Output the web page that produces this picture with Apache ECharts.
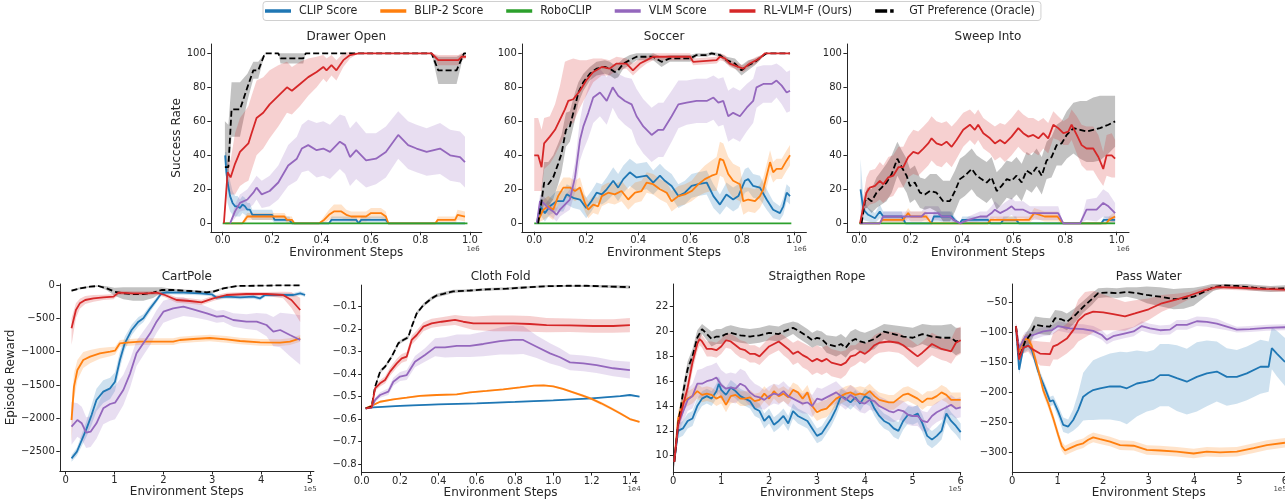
<!DOCTYPE html>
<html><head><meta charset="utf-8">
<script src="https://cdn.jsdelivr.net/npm/echarts@6/dist/echarts.min.js"></script>
<style>html,body{margin:0;padding:0;background:#fff}#c{width:1285px;height:499px}</style>
</head><body><div id="c"></div>
<script>
const SERIES_NAMES = ['CLIP Score','BLIP-2 Score','RoboCLIP','VLM Score','RL-VLM-F (Ours)','GT Preference (Oracle)'];
const SERIES_COLORS = ['#1f77b4','#ff7f0e','#2ca02c','#9467bd','#d62728','#000000'];

const TOP_X_TICKS = [0, 0.2, 0.4, 0.6, 0.8, 1.0];
const TOP_Y_TICKS = [0, 20, 40, 60, 80, 100];
const CART_X_TICKS = [0, 1, 2, 3, 4, 5];
const CART_Y_TICKS = [0, -500, -1000, -1500, -2000, -2500];
const CLOTH_X_TICKS = [0, 0.2, 0.4, 0.6, 0.8, 1.0, 1.2, 1.4];
const CLOTH_Y_TICKS = [-0.1, -0.2, -0.3, -0.4, -0.5, -0.6, -0.7, -0.8];
const ROPE_X_TICKS = [0, 1, 2, 3, 4, 5, 6];
const ROPE_Y_TICKS = [10, 12, 14, 16, 18, 20, 22];
const PASS_X_TICKS = [0, 1, 2, 3, 4, 5, 6];
const PASS_Y_TICKS = [-50, -100, -150, -200, -250, -300];

// [x, mean, band below, band above (optional)]
const DRAWER_CLIP = [[0.01,40,2],[0.015,30,12],[0.02,24,12],[0.03,16,9],[0.04,12,7],[0.05,10,6],[0.06,10,6],[0.07,9,5],[0.08,11,5],[0.09,10,5],[0.1,8,4],[0.11,8,4],[0.12,5,3],[0.2,5,3],[0.21,2,2],[0.27,2,2],[0.28,0,0],[0.43,0,0],[0.44,2,2],[0.54,2,2],[0.55,0,0],[0.56,2,2],[0.66,2,2],[0.67,0,0],[0.98,0,0]];
const DRAWER_BLIP = [[0.01,0,0],[0.08,0,0],[0.09,2,2],[0.1,4,2],[0.25,4,2],[0.26,2,2],[0.28,2,2],[0.29,0,0],[0.39,0,0],[0.41,2,2],[0.43,5,3],[0.45,7,4],[0.48,7,4],[0.5,5,3],[0.52,4,3],[0.58,4,3],[0.6,6,3],[0.64,6,3],[0.66,4,3],[0.67,0,0],[0.86,0,0],[0.87,2,2],[0.94,2,2],[0.95,5,3],[0.98,4,3]];
const DRAWER_ROBO = [[0,0],[0.99,0]];
const DRAWER_VLM = [[0.03,0,0],[0.05,7,4],[0.07,12,5],[0.1,14,6],[0.124,18,7],[0.137,21,7],[0.158,17,8],[0.19,19,9],[0.225,24,10],[0.265,34,12],[0.3,38,13],[0.32,44,14],[0.346,46,15],[0.38,43,16],[0.407,44,16],[0.434,42,16],[0.474,48,16],[0.495,46,17],[0.515,39,17],[0.54,43,17],[0.58,37,16],[0.62,38,15],[0.66,42,15],[0.71,52,14],[0.75,46,14],[0.784,44,14],[0.825,42,14],[0.879,44,15],[0.92,40,15],[0.96,39,15],[0.98,36,15]];
const DRAWER_OURS = [[0.005,0,0],[0.02,30,8],[0.032,27,10],[0.05,35,18],[0.07,42,20],[0.09,45,21],[0.104,47,22],[0.117,53,22],[0.137,62,22],[0.164,65,21],[0.19,70,20],[0.225,75,18],[0.26,80,15],[0.28,78,14],[0.313,82,13],[0.346,86,11],[0.38,89,9],[0.407,92,7],[0.42,90,7],[0.44,93,6],[0.46,90,6],[0.488,96,4],[0.515,99,2],[0.55,100,0],[0.845,100,0],[0.872,96,3],[0.953,96,3],[0.966,98,2],[0.984,98,1]];
const DRAWER_GT = [[0.009,33,0,27],[0.023,33,5,25],[0.036,67,16],[0.07,67,16],[0.1,80,8],[0.124,90,5],[0.144,90,5],[0.171,100,0],[0.225,100,0],[0.234,97,3],[0.326,97,3],[0.336,100,0],[0.845,100,0],[0.872,90,8],[0.946,90,8],[0.976,100,0],[0.984,100,0]];

const SOCCER_CLIP = [[0.01,0,0],[0.022,10,5],[0.041,6,5],[0.06,10,5],[0.086,13,6],[0.112,13,6],[0.125,17,6],[0.15,15,6],[0.176,14,6],[0.2,9,6],[0.22,13,6],[0.24,18,6],[0.26,17,6],[0.279,20,7],[0.304,25,8],[0.323,21,8],[0.343,26,8],[0.368,30,8],[0.394,27,8],[0.433,28,8],[0.458,24,7],[0.484,28,7],[0.503,25,7],[0.529,22,7],[0.555,16,7],[0.58,18,7],[0.606,22,7],[0.632,23,7],[0.664,24,7],[0.69,16,7],[0.715,11,6],[0.74,17,7],[0.766,14,7],[0.786,16,7],[0.811,25,7],[0.824,26,7],[0.843,22,7],[0.869,21,7],[0.895,14,6],[0.92,8,5],[0.946,6,4],[0.959,10,5],[0.972,18,5],[0.985,16,5]];
const SOCCER_BLIP = [[0.01,0,0],[0.035,8,6],[0.054,10,6],[0.073,8,6],[0.092,16,6],[0.112,21,6],[0.137,21,6],[0.157,19,6],[0.176,21,6],[0.195,12,5],[0.208,8,5],[0.227,11,5],[0.246,10,5],[0.26,16,6],[0.285,18,6],[0.31,17,6],[0.336,19,6],[0.362,14,6],[0.388,18,6],[0.413,19,6],[0.433,24,6],[0.458,23,6],[0.484,20,6],[0.51,18,6],[0.529,13,6],[0.555,16,6],[0.58,17,6],[0.606,19,6],[0.632,23,7],[0.657,26,8],[0.683,28,9],[0.702,29,10],[0.715,38,10],[0.728,37,10],[0.747,29,10],[0.766,25,10],[0.792,23,10],[0.805,13,8],[0.824,14,7],[0.85,13,7],[0.869,16,7],[0.882,20,7],[0.895,28,7],[0.908,36,7],[0.92,30,6],[0.933,32,6],[0.953,32,6],[0.972,37,6],[0.985,40,6]];
const SOCCER_ROBO = [[0,0],[0.99,0]];
const SOCCER_VLM = [[0.01,0,0],[0.022,13,4],[0.035,12,4],[0.054,9,4],[0.073,7,4],[0.086,5,4],[0.099,8,4],[0.118,11,5],[0.137,14,6],[0.157,27,9],[0.176,49,12],[0.189,57,14],[0.208,65,15],[0.227,74,15],[0.253,77,14],[0.279,72,14],[0.302,80,12],[0.323,75,13],[0.349,72,14],[0.375,70,15],[0.394,63,16],[0.42,57,16],[0.452,52,16],[0.478,55,16],[0.497,55,16],[0.529,63,15],[0.555,70,14],[0.587,71,13],[0.625,72,13],[0.664,72,13],[0.69,74,13],[0.709,71,14],[0.728,72,14],[0.747,63,15],[0.766,65,15],[0.792,63,15],[0.818,68,14],[0.843,72,13],[0.856,80,12],[0.882,82,11],[0.914,82,11],[0.933,84,10],[0.953,81,11],[0.972,77,12],[0.985,78,12]];
const SOCCER_OURS = [[0,40,21,22],[0.015,40,21,22],[0.028,33,14,22],[0.038,47,15,15],[0.06,51,16,12],[0.08,55,15,15],[0.099,61,15,20],[0.118,67,15,28],[0.131,72,14,24],[0.15,73,14,24],[0.176,78,10,18],[0.2,84,9,12],[0.227,89,6,8],[0.26,92,5,5],[0.29,91,4,5],[0.317,94,4,4],[0.355,94,3,3],[0.38,90,3,4],[0.407,94,3,3],[0.433,96,2,2],[0.458,98,2,2],[0.6,98,2,2],[0.612,95,2,2],[0.702,96,2,2],[0.715,98,2,2],[0.734,97,2,2],[0.753,94,2,2],[0.786,92,2,2],[0.805,91,2,2],[0.83,94,2,2],[0.856,96,2,2],[0.875,98,1,1],[0.888,100,0,0],[0.985,100,0,0]];
const SOCCER_GT = [[0.015,0,0],[0.028,13,8],[0.038,24,12],[0.054,23,13],[0.073,27,13],[0.092,35,12],[0.105,41,11],[0.122,55,10],[0.137,57,9],[0.157,69,8],[0.17,77,6],[0.189,83,5],[0.214,88,4],[0.24,91,4],[0.272,92,4],[0.291,91,4],[0.31,89,4],[0.323,90,4],[0.343,94,3],[0.368,96,3],[0.394,98,2],[0.458,98,2],[0.49,95,3],[0.522,97,2],[0.6,97,2],[0.625,99,1],[0.664,99,1],[0.683,100,1],[0.715,99,1],[0.74,96,2],[0.773,94,3],[0.798,90,3],[0.824,93,3],[0.85,95,2],[0.875,98,1],[0.895,100,0],[0.985,100,0]];

const SWEEP_CLIP = [[0.005,20,20,18],[0.016,8,6],[0.035,5,4],[0.061,3,3],[0.08,7,4],[0.093,4,3],[0.165,4,3],[0.18,0,0],[0.28,0,0],[0.29,4,3],[0.36,4,3],[0.37,2,2],[0.39,0,0],[0.4,2,2],[0.5,2,2],[0.51,0,0],[0.55,0,0],[0.56,2,2],[0.61,2,2],[0.62,0,0],[0.94,0,0],[0.95,2,2],[0.994,2,2]];
const SWEEP_BLIP = [[0.003,0,0],[0.08,0,0],[0.09,2,2],[0.17,2,2],[0.19,6,3],[0.2,4,3],[0.26,4,3],[0.28,0,0],[0.5,0,0],[0.51,2,2],[0.66,2,2],[0.68,6,3],[0.72,4,3],[0.77,4,3],[0.79,0,0],[0.96,0,0],[0.97,2,2],[0.994,4,3]];
const SWEEP_ROBO = [[0,0],[0.994,0]];
const SWEEP_VLM = [[0.003,0,0],[0.08,0,0],[0.093,4,3],[0.242,4,3],[0.255,6,4],[0.307,6,4],[0.32,4,3],[0.352,4,3],[0.365,2,2],[0.391,0,0],[0.424,2,2],[0.469,4,3],[0.495,4,3],[0.514,6,4],[0.527,8,5],[0.547,6,4],[0.573,8,5],[0.592,10,5],[0.605,8,5],[0.637,8,5],[0.663,6,4],[0.773,6,4],[0.793,0,0],[0.858,0,0],[0.883,8,6],[0.922,8,7],[0.948,12,8],[0.968,10,8],[0.994,6,6]];
const SWEEP_OURS = [[0.003,0,0],[0.016,10,6],[0.028,18,9],[0.041,21,10],[0.061,22,10],[0.08,25,11],[0.093,23,11],[0.113,27,12],[0.132,28,12],[0.152,33,12],[0.171,33,12],[0.19,39,12],[0.21,42,13],[0.229,41,13],[0.249,44,13],[0.268,47,13],[0.281,50,13],[0.3,47,13],[0.32,46,13],[0.339,48,12],[0.359,45,12],[0.378,49,11],[0.404,55,10],[0.43,58,9],[0.449,55,9],[0.462,58,9],[0.482,53,9],[0.508,50,9],[0.527,47,10],[0.547,49,10],[0.566,47,11],[0.592,51,11],[0.618,56,11],[0.637,53,11],[0.657,51,11],[0.676,52,10],[0.696,50,10],[0.715,53,9],[0.734,50,9],[0.754,58,8],[0.773,56,7],[0.793,53,7],[0.812,54,8],[0.825,58,9],[0.845,52,11],[0.864,46,12],[0.883,44,13],[0.909,44,13],[0.929,39,13],[0.948,32,10],[0.961,40,12],[0.981,40,13],[0.994,38,11]];
const SWEEP_GT = [[0.009,0,0],[0.022,13,4],[0.031,15,6],[0.048,13,7],[0.067,18,9],[0.087,21,10],[0.106,24,11],[0.126,29,11],[0.148,38,10],[0.165,33,10],[0.184,28,10],[0.197,22,10],[0.216,24,10],[0.236,18,9],[0.255,17,9],[0.275,19,10],[0.3,18,11],[0.326,13,12],[0.352,13,12],[0.372,19,12],[0.391,26,12],[0.41,28,12],[0.437,32,12],[0.456,28,12],[0.475,26,12],[0.495,24,12],[0.514,27,12],[0.534,19,11],[0.553,22,11],[0.573,26,11],[0.592,25,11],[0.611,28,11],[0.631,24,11],[0.65,31,11],[0.67,29,11],[0.689,33,11],[0.709,28,11],[0.728,37,11],[0.747,39,12],[0.767,46,12],[0.786,47,13],[0.806,52,14],[0.832,56,15],[0.858,55,17],[0.883,54,18],[0.909,55,19],[0.935,56,19],[0.968,58,17],[0.994,60,15]];

const CART_CLIP = [[0.12,-2600,50],[0.23,-2500,60],[0.33,-2325,90],[0.43,-2150,120],[0.53,-1950,150],[0.63,-1725,170],[0.77,-1600,170],[0.91,-1550,160],[1.01,-1450,140],[1.11,-1125,120],[1.21,-875,100],[1.35,-675,80],[1.49,-550,70],[1.59,-500,60],[1.73,-350,50],[1.86,-225,40],[1.96,-125,30],[2.07,-110,30],[2.41,-115,30],[2.75,-125,30],[2.99,-140,30],[3.09,-190,30],[3.29,-175,30],[3.57,-185,30],[3.84,-175,30],[3.98,-200,30],[4.08,-150,30],[4.45,-150,30],[4.66,-150,30],[4.8,-125,30],[4.9,-150,30]];
const CART_BLIP = [[0.12,-2025,330,230],[0.17,-1525,200],[0.24,-1275,150],[0.36,-1125,120],[0.5,-1075,100],[0.7,-1025,80],[0.91,-1000,70],[1.01,-985,60],[1.11,-875,50],[1.25,-865,50],[1.52,-850,50],[1.86,-850,50],[2.2,-850,50],[2.34,-825,50],[2.61,-810,50],[2.95,-795,50],[3.29,-815,50],[3.57,-840,50],[3.98,-860,50],[4.39,-865,50],[4.59,-850,50],[4.8,-800,50]];
const CART_VLM = [[0.12,-2125,270,370],[0.24,-2025,250],[0.33,-2075,250],[0.42,-2215,230],[0.51,-2200,230],[0.63,-2075,230],[0.77,-1850,240],[0.91,-1785,250],[1.01,-1765,250],[1.18,-1575,230],[1.32,-1325,210],[1.45,-1025,190],[1.59,-875,180],[1.73,-725,175],[1.86,-550,170],[2.0,-400,165],[2.2,-350,160],[2.41,-325,140],[2.61,-365,120],[2.89,-425,100],[3.09,-475,90],[3.23,-465,90],[3.43,-525,100],[3.7,-550,110],[3.91,-550,130],[4.11,-600,170],[4.25,-700,220],[4.39,-675,260],[4.59,-750,320],[4.8,-825,370]];
const CART_OURS = [[0.12,-650,250,150],[0.21,-375,120,100],[0.29,-275,80,70],[0.4,-225,60],[0.57,-200,50],[0.77,-185,40],[0.98,-175,40],[1.08,-115,30],[1.38,-125,30],[1.66,-125,30],[1.86,-115,30],[2.03,-150,35],[2.27,-225,40],[2.54,-240,40],[2.78,-260,40],[3.02,-200,40],[3.29,-150,35],[3.7,-135,30],[4.11,-135,30],[4.45,-150,50],[4.62,-225,120],[4.8,-375,180]];
const CART_GT = [[0.12,-85,15],[0.29,-50,15],[0.5,-25,12],[0.67,-15,12],[0.84,-50,30],[1.0,-100,60],[1.18,-125,90],[1.38,-135,100],[1.59,-135,100],[1.79,-115,80],[1.96,-75,40],[2.2,-75,20],[2.54,-90,20],[2.89,-110,20],[3.02,-100,20],[3.23,-50,15],[3.5,-15,10],[3.98,-10,8],[4.45,-5,8],[4.8,-5,8]];

const CLOTH_CLIP = [[0.021,-0.552,0.003],[0.061,-0.548,0.003],[0.2,-0.541,0.003],[0.4,-0.535,0.003],[0.6,-0.53,0.003],[0.8,-0.524,0.003],[1.0,-0.517,0.003],[1.2,-0.508,0.003],[1.35,-0.498,0.003],[1.4,-0.493,0.003],[1.45,-0.5,0.003]];
const CLOTH_BLIP = [[0.021,-0.552,0.004],[0.061,-0.537,0.004],[0.096,-0.523,0.004],[0.165,-0.512,0.004],[0.235,-0.505,0.004],[0.304,-0.497,0.004],[0.391,-0.493,0.004],[0.496,-0.49,0.004],[0.565,-0.481,0.004],[0.652,-0.475,0.004],[0.739,-0.468,0.004],[0.826,-0.459,0.004],[0.9,-0.451,0.004],[0.95,-0.45,0.004],[1.0,-0.455,0.004],[1.05,-0.466,0.005],[1.1,-0.48,0.005],[1.15,-0.495,0.006],[1.2,-0.51,0.006],[1.25,-0.53,0.007],[1.3,-0.552,0.007],[1.35,-0.575,0.006],[1.4,-0.6,0.005],[1.45,-0.613,0.004]];
const CLOTH_VLM = [[0.021,-0.552,0.005],[0.052,-0.548,0.005],[0.07,-0.515,0.01],[0.096,-0.493,0.012],[0.139,-0.478,0.015],[0.165,-0.434,0.018],[0.2,-0.411,0.02],[0.235,-0.404,0.022],[0.278,-0.345,0.025],[0.33,-0.315,0.03],[0.383,-0.281,0.04],[0.435,-0.281,0.045],[0.496,-0.274,0.05],[0.565,-0.274,0.05],[0.635,-0.266,0.055],[0.722,-0.253,0.06],[0.791,-0.248,0.065],[0.843,-0.248,0.062],[0.913,-0.278,0.05],[0.983,-0.308,0.045],[1.035,-0.325,0.04],[1.087,-0.348,0.035],[1.157,-0.352,0.035],[1.226,-0.36,0.035],[1.313,-0.374,0.035],[1.4,-0.382,0.037]];
const CLOTH_OURS = [[0.021,-0.552,0.005],[0.052,-0.548,0.005],[0.07,-0.463,0.012],[0.096,-0.441,0.014],[0.122,-0.426,0.016],[0.148,-0.389,0.018],[0.183,-0.352,0.02],[0.209,-0.33,0.02],[0.235,-0.322,0.02],[0.261,-0.248,0.02],[0.287,-0.226,0.02],[0.322,-0.189,0.02],[0.365,-0.174,0.02],[0.417,-0.167,0.02],[0.487,-0.159,0.022],[0.53,-0.167,0.025],[0.583,-0.174,0.03],[0.687,-0.174,0.035],[0.791,-0.174,0.035],[0.878,-0.177,0.035],[0.965,-0.182,0.032],[1.087,-0.183,0.03],[1.209,-0.186,0.03],[1.313,-0.186,0.03],[1.4,-0.182,0.032]];
const CLOTH_GT = [[0.021,-0.552,0.004],[0.052,-0.545,0.004],[0.07,-0.456,0.006],[0.096,-0.389,0.008],[0.122,-0.367,0.008],[0.157,-0.322,0.008],[0.191,-0.263,0.008],[0.217,-0.248,0.008],[0.243,-0.236,0.008],[0.261,-0.189,0.008],[0.287,-0.13,0.008],[0.322,-0.093,0.008],[0.365,-0.063,0.008],[0.391,-0.05,0.008],[0.426,-0.043,0.008],[0.478,-0.032,0.007],[0.565,-0.028,0.006],[0.652,-0.023,0.006],[0.757,-0.02,0.006],[0.861,-0.014,0.005],[0.965,-0.009,0.005],[1.07,-0.007,0.005],[1.174,-0.007,0.005],[1.278,-0.01,0.006],[1.4,-0.013,0.007]];

const ROPE_CLIP = [[0.02,9.5,0.4],[0.1,12,0.6],[0.2,12.2,0.6],[0.3,12.8,0.6],[0.4,13.0,0.6],[0.5,14.0,0.6],[0.6,14.6,0.6],[0.7,14.8,0.6],[0.8,14.6,0.6],[0.9,15.2,0.6],[0.95,15.8,0.6],[1.0,15.3,0.6],[1.1,14.9,0.6],[1.2,15.5,0.6],[1.3,15.2,0.6],[1.4,14.8,0.6],[1.5,14.6,0.6],[1.6,14.4,0.6],[1.7,13.8,0.6],[1.8,13.6,0.6],[1.9,12.8,0.6],[2.0,13.2,0.6],[2.1,12.5,0.6],[2.2,12.8,0.6],[2.3,13.2,0.6],[2.4,12.6,0.6],[2.5,13.6,0.6],[2.6,13.2,0.6],[2.7,13.0,0.6],[2.8,12.8,0.6],[2.9,12.2,0.6],[3.0,11.6,0.6],[3.1,11.8,0.6],[3.2,12.4,0.6],[3.3,13.0,0.6],[3.4,13.8,0.6],[3.5,14.8,0.6],[3.6,14.6,0.6],[3.7,14.3,0.6],[3.8,14.7,0.6],[3.9,14.2,0.6],[4.0,14.8,0.6],[4.1,14.6,0.6],[4.2,13.8,0.6],[4.3,13.2,0.6],[4.4,12.8,0.6],[4.5,12.6,0.6],[4.6,12.2,0.7],[4.7,12.0,0.7],[4.8,12.8,0.7],[4.9,13.3,0.7],[5.0,13.2,0.7],[5.1,13.4,0.7],[5.2,12.6,0.7],[5.3,11.6,0.7],[5.4,11.3,0.7],[5.5,11.6,0.7],[5.6,12.0,0.7],[5.7,13.4,0.7],[5.8,12.8,0.7],[5.9,12.4,0.7],[6.0,11.9,0.7]];
const ROPE_BLIP = [[0.02,9.5,0.4],[0.1,13,0.6],[0.2,14.3,0.6],[0.3,14.6,0.6],[0.4,14.8,0.6],[0.5,15.2,0.6],[0.6,14.9,0.6],[0.7,15.0,0.6],[0.8,14.9,0.6],[0.9,14.6,0.6],[1.0,14.8,0.6],[1.1,14.1,0.6],[1.2,14.8,0.6],[1.3,14.9,0.6],[1.4,14.6,0.6],[1.5,14.6,0.6],[1.6,14.7,0.6],[1.7,14.4,0.6],[1.8,14.5,0.6],[1.9,15.0,0.6],[2.0,14.6,0.6],[2.1,15.2,0.6],[2.2,14.8,0.6],[2.3,15.0,0.6],[2.4,14.7,0.6],[2.5,15.3,0.6],[2.6,15.1,0.6],[2.7,14.6,0.6],[2.8,15.1,0.6],[2.9,14.0,0.7],[3.0,13.5,0.7],[3.1,13.7,0.7],[3.2,13.8,0.7],[3.3,14.2,0.7],[3.4,14.6,0.6],[3.5,14.8,0.6],[3.6,15.0,0.6],[3.7,15.1,0.6],[3.8,14.9,0.6],[3.9,15.0,0.6],[4.0,14.9,0.6],[4.1,15.2,0.6],[4.2,14.8,0.6],[4.3,14.5,0.6],[4.4,14.4,0.6],[4.5,14.3,0.6],[4.6,14.3,0.6],[4.7,14.6,0.6],[4.8,14.9,0.6],[4.9,15.0,0.6],[5.0,14.8,0.6],[5.1,14.6,0.6],[5.2,14.3,0.6],[5.3,14.6,0.6],[5.4,14.6,0.6],[5.5,14.8,0.6],[5.6,15.1,0.6],[5.7,14.9,0.6],[5.8,14.5,0.6],[5.9,14.5,0.6],[6.0,14.5,0.6]];
const ROPE_VLM = [[0.02,9.5,0.4],[0.1,12.5,0.8],[0.2,13.5,0.8],[0.3,14.5,0.9],[0.4,14.8,1.0],[0.5,15.8,1.1],[0.6,15.8,1.2],[0.7,16.0,1.2],[0.8,16.1,1.2],[0.9,16.3,1.2],[1.0,15.7,1.2],[1.1,15.4,1.2],[1.2,15.5,1.2],[1.3,15.4,1.2],[1.4,15.8,1.2],[1.5,15.6,1.2],[1.6,15.1,1.1],[1.7,14.8,1.0],[1.8,14.7,0.9],[1.9,14.5,0.8],[2.0,14.8,0.8],[2.1,15.0,0.8],[2.2,14.9,0.8],[2.3,15.2,0.8],[2.4,14.8,0.8],[2.5,14.6,0.8],[2.6,14.4,0.8],[2.7,14.2,0.8],[2.8,14.3,0.9],[2.9,14.0,0.9],[3.0,14.6,0.9],[3.1,14.5,0.9],[3.2,14.7,0.9],[3.3,14.9,0.9],[3.4,15.1,0.9],[3.5,14.8,0.8],[3.6,14.5,0.8],[3.7,14.9,0.8],[3.8,14.6,0.8],[3.9,14.3,0.8],[4.0,14.2,0.8],[4.1,14.5,0.8],[4.2,14.4,0.8],[4.3,14.0,0.8],[4.4,13.8,0.8],[4.5,13.6,0.8],[4.6,13.5,0.8],[4.7,13.7,0.8],[4.8,13.6,0.8],[4.9,13.3,0.8],[5.0,13.2,0.8],[5.1,13.2,0.8],[5.2,12.8,0.8],[5.3,12.7,0.8],[5.4,13.2,0.8],[5.5,13.5,0.8],[5.6,13.7,0.8],[5.7,13.9,0.8],[5.8,14.1,0.8],[5.9,13.8,0.8],[6.0,13.9,0.8]];
const ROPE_OURS = [[0.02,9.5,0.4],[0.1,12.5,0.6],[0.2,14,0.7],[0.3,15.5,0.7],[0.4,17.5,0.7],[0.5,19,0.6],[0.55,19.4,0.5],[0.6,19.2,0.5],[0.7,18.6,0.6],[0.8,18.6,0.6],[0.9,18.5,0.6],[1.0,18.8,0.6],[1.1,19.3,0.6],[1.2,19.2,0.6],[1.3,18.9,0.7],[1.4,18.6,0.7],[1.5,18.5,0.7],[1.6,18.2,0.7],[1.7,18.2,0.7],[1.8,18.0,0.7],[1.9,18.4,0.7],[2.0,18.8,0.7],[2.1,19.0,0.7],[2.2,19.2,0.7],[2.3,18.9,0.8],[2.4,18.6,0.8],[2.5,18.2,0.9],[2.6,18.4,0.9],[2.7,18.1,1.0],[2.8,17.9,1.0],[2.9,17.6,1.1],[3.0,17.8,1.1],[3.1,17.6,1.1],[3.2,17.8,1.1],[3.3,17.5,1.1],[3.4,17.4,1.1],[3.5,17.3,1.1],[3.6,17.5,1.0],[3.7,18.0,0.9],[3.8,18.1,0.8],[3.9,18.4,0.8],[4.0,18.2,0.8],[4.1,18.5,0.8],[4.2,18.9,0.8],[4.3,19.1,0.8],[4.5,19.2,0.8],[4.7,19.1,0.8],[4.8,18.9,0.8],[5.0,18.3,0.9],[5.1,18.0,0.9],[5.2,18.3,0.9],[5.4,19.0,0.9],[5.5,18.8,0.9],[5.6,18.6,0.9],[5.7,18.5,0.9],[5.8,18.4,1.0],[5.9,19.1,1.1],[6.0,19.3,1.1]];
const ROPE_GT = [[0.02,9.5,0.5],[0.1,12.5,0.5],[0.2,15,0.6],[0.3,17,0.6],[0.4,18,0.6],[0.5,19.5,0.6],[0.6,20.2,0.4],[0.7,19.8,0.5],[0.8,19.4,0.6],[0.9,19.6,0.6],[1.0,19.6,0.6],[1.1,19.8,0.6],[1.2,19.9,0.6],[1.4,19.7,0.6],[1.6,19.6,0.6],[1.8,19.7,0.6],[2.0,19.9,0.6],[2.2,19.8,0.6],[2.3,20.0,0.6],[2.5,20.3,0.5],[2.6,20.1,0.6],[2.8,19.6,0.6],[2.9,19.3,0.6],[3.0,19.5,0.6],[3.1,19.4,0.6],[3.2,19.0,0.7],[3.4,18.8,0.8],[3.5,19.0,0.8],[3.6,18.7,0.8],[3.7,19.2,0.8],[3.8,19.4,0.8],[3.9,19.2,0.8],[4.0,19.1,0.8],[4.2,19.4,0.8],[4.4,20.0,0.6],[4.6,19.8,0.7],[4.8,19.6,0.8],[5.0,19.5,0.8],[5.2,19.8,0.8],[5.4,19.6,0.9],[5.6,19.5,1.0],[5.8,19.5,1.1],[5.9,19.2,1.1],[6.0,19.3,1.0]];

const PASS_CLIP = [[0.08,-90,5],[0.15,-162,8],[0.24,-126,8],[0.35,-121,8],[0.43,-129,8],[0.57,-165,8],[0.72,-193,8],[0.83,-215,8],[0.9,-213,8],[1.01,-232,10],[1.12,-254,12],[1.23,-257,12],[1.34,-246,18],[1.45,-229,28],[1.56,-207,40],[1.67,-201,45],[1.78,-196,50],[1.93,-193,52],[2.15,-190,55],[2.37,-190,58],[2.52,-193,60],[2.74,-185,55],[2.96,-182,50],[3.11,-179,50],[3.25,-171,52],[3.44,-171,52],[3.62,-176,55],[3.84,-182,55],[4.06,-174,58],[4.28,-168,55],[4.5,-165,50],[4.72,-174,48],[4.94,-174,45],[5.16,-168,45],[5.46,-157,45],[5.64,-157,42],[5.71,-126,35],[5.82,-135,38],[6.0,-149,40]];
const PASS_BLIP = [[0.08,-89,5],[0.15,-132,8],[0.24,-112,8],[0.35,-110,8],[0.43,-123,8],[0.57,-162,8],[0.68,-196,8],[0.79,-218,8],[0.9,-243,8],[1.01,-271,8],[1.09,-290,8],[1.16,-297,8],[1.27,-293,8],[1.42,-288,8],[1.56,-285,8],[1.67,-279,8],[1.78,-275,8],[1.93,-278,8],[2.15,-282,8],[2.37,-288,8],[2.67,-289,8],[2.96,-296,8],[3.25,-297,8],[3.62,-299,8],[3.99,-302,8],[4.28,-299,8],[4.57,-300,8],[4.94,-299,8],[5.31,-293,8],[5.6,-288,8],[6.0,-284,8]];
const PASS_VLM = [[0.08,-89,5],[0.15,-126,8],[0.28,-107,8],[0.46,-104,8],[0.68,-98,8],[0.87,-96,8],[1.01,-89,8],[1.27,-93,8],[1.56,-94,8],[1.78,-97,8],[1.97,-104,8],[2.08,-112,8],[2.22,-106,8],[2.44,-102,8],[2.67,-98,8],[2.85,-89,8],[3.03,-93,8],[3.25,-96,8],[3.47,-95,8],[3.62,-87,8],[3.84,-87,8],[4.06,-81,8],[4.28,-82,8],[4.5,-85,8],[4.72,-90,6],[4.94,-95,5],[5.23,-94,5],[5.6,-92,5],[6.0,-91,5]];
const PASS_OURS = [[0.08,-89,5],[0.15,-145,10],[0.24,-125,10],[0.35,-122,10],[0.45,-128,15],[0.61,-135,20],[0.83,-136,20],[0.9,-123,22],[1.0,-120,25],[1.2,-110,25],[1.35,-95,30],[1.45,-80,35],[1.6,-70,38],[1.78,-65,35],[2.0,-66,30],[2.22,-69,27],[2.48,-73,24],[2.7,-68,22],[3.0,-61,18],[3.29,-51,14],[3.6,-45,10],[3.9,-38,6],[4.2,-30,5],[4.5,-24,4],[5.0,-25,4],[5.5,-27,4],[6.0,-28,4]];
const PASS_GT = [[0.08,-89,5],[0.15,-143,10],[0.28,-115,12],[0.39,-104,14],[0.5,-87,14],[0.68,-89,14],[0.83,-90,14],[0.94,-76,14],[1.09,-78,14],[1.2,-82,14],[1.38,-71,12],[1.56,-57,10],[1.75,-44,10],[1.89,-34,8],[2.08,-33,8],[2.3,-34,8],[2.52,-32,8],[2.74,-34,10],[2.96,-37,14],[3.25,-40,16],[3.55,-44,17],[3.77,-43,17],[3.99,-40,15],[4.21,-32,10],[4.43,-24,6],[4.65,-21,5],[4.94,-22,5],[5.31,-25,5],[5.68,-27,5],[6.0,-26,5]];

const FONT = 'DejaVu Sans';
const LEGEND_FONT = "'DejaVu Sans Condensed', 'DejaVu Sans'";
const INK = '#262626';
const fmtInt = v => (v < 0 ? '\u2212' + Math.abs(v) : String(v));
const fmtDec = v => (v < 0 ? '\u2212' : '') + Math.abs(v).toFixed(1);

const PANELS = [
  {title:'Drawer Open', rect:[210.8,44,271,187.8], xr:[-0.048,1.048], yr:[-5,105.5], xt:TOP_X_TICKS, yt:TOP_Y_TICKS, xf:fmtDec, yf:fmtInt, yname:'Success Rate', ynameGap:22, off:'1e6', offPos:[473,249], titleY:37, lines:[DRAWER_CLIP,DRAWER_BLIP,DRAWER_ROBO,DRAWER_VLM,DRAWER_OURS,DRAWER_GT]},
  {title:'Soccer', rect:[521.8,44,284.6,187.8], xr:[-0.048,1.048], yr:[-5,105.5], xt:TOP_X_TICKS, yt:TOP_Y_TICKS, xf:fmtDec, yf:fmtInt, off:'1e6', offPos:[800,249], titleY:37, lines:[SOCCER_CLIP,SOCCER_BLIP,SOCCER_ROBO,SOCCER_VLM,SOCCER_OURS,SOCCER_GT]},
  {title:'Sweep Into', rect:[846.9,44,282.1,187.8], xr:[-0.048,1.048], yr:[-5,105.5], xt:TOP_X_TICKS, yt:TOP_Y_TICKS, xf:fmtDec, yf:fmtInt, off:'1e6', offPos:[1123,249], titleY:37, lines:[SWEEP_CLIP,SWEEP_BLIP,SWEEP_ROBO,SWEEP_VLM,SWEEP_OURS,SWEEP_GT]},
  {title:'CartPole', rect:[59.8,284,254.1,187], xr:[-0.12,5.08], yr:[-2790,15], xt:CART_X_TICKS, yt:CART_Y_TICKS, xf:fmtInt, yf:fmtInt, yname:'Episode Reward', ynameGap:36, off:'1e5', offPos:[310,489], titleY:277, lines:[CART_CLIP,CART_BLIP,null,CART_VLM,CART_OURS,CART_GT]},
  {title:'Cloth Fold', rect:[361.7,285.1,277.8,187], xr:[0,1.45], yr:[-0.836,-0.004], xt:CLOTH_X_TICKS, yt:CLOTH_Y_TICKS, xf:fmtDec, yf:fmtDec, off:'1e4', offPos:[634,489], titleY:277, lines:[CLOTH_CLIP,CLOTH_BLIP,null,CLOTH_VLM,CLOTH_OURS,CLOTH_GT]},
  {title:'Straigthen Rope', rect:[673.3,284,287.4,188], xr:[0,6], yr:[8.69,23.83], xt:ROPE_X_TICKS, yt:ROPE_Y_TICKS, xf:fmtInt, yf:fmtInt, off:'1e5', offPos:[955,489], titleY:277, lines:[ROPE_CLIP,ROPE_BLIP,null,ROPE_VLM,ROPE_OURS,ROPE_GT]},
  {title:'Pass Water', rect:[1012.3,284,272.7,188], xr:[0,6], yr:[-332.9,-18.75], xt:PASS_X_TICKS, yt:PASS_Y_TICKS, xf:fmtInt, yf:fmtInt, off:'1e5', offPos:[1280,489], titleY:277, lines:[PASS_CLIP,PASS_BLIP,null,PASS_VLM,PASS_OURS,PASS_GT]}
];

const DRAW_ORDER = [0, 1, 2, 3, 5, 4]; // CLIP, BLIP, Robo, VLM, GT, Ours (Ours on top)
const BAND_ALPHA = [0.22, 0.22, 0.2, 0.22, 0.22, 0.24];

function hexToRgba(hex, a) {
  const n = parseInt(hex.slice(1), 16);
  return 'rgba(' + ((n >> 16) & 255) + ',' + ((n >> 8) & 255) + ',' + (n & 255) + ',' + a + ')';
}

function makeAxis(gi, range, ticks, fmt, isX, name, nameGap) {
  const ax = {
    type: 'value', gridIndex: gi, min: range[0], max: range[1],
    position: isX ? 'bottom' : 'left',
    axisLine: {show: true, onZero: false, lineStyle: {color: INK, width: 1}},
    axisTick: {show: true, inside: false, length: 3.5, customValues: ticks, lineStyle: {color: INK, width: 1}},
    axisLabel: {show: true, customValues: ticks, formatter: fmt, fontFamily: FONT, fontSize: 10, color: INK, margin: isX ? 4 : 5},
    splitLine: {show: false},
    silent: true
  };
  if (name) {
    ax.name = name; ax.nameLocation = 'middle'; ax.nameGap = nameGap;
    ax.nameTextStyle = {fontFamily: FONT, fontSize: 12, color: INK};
  }
  return ax;
}

const grids = [], xAxes = [], yAxes = [], series = [], graphics = [];
PANELS.forEach((p, gi) => {
  grids.push({left: p.rect[0], top: p.rect[1], width: p.rect[2], height: p.rect[3], containLabel: false, outerBoundsMode: 'none'});
  xAxes.push(makeAxis(gi, p.xr, p.xt, p.xf, true, 'Environment Steps', 13));
  yAxes.push(makeAxis(gi, p.yr, p.yt, p.yf, false, p.yname, p.ynameGap));
  graphics.push({type: 'text', x: p.rect[0] + p.rect[2] / 2, y: p.titleY, silent: true,
    style: {text: p.title, fontFamily: FONT, fontSize: 12, fill: INK, textAlign: 'center', textVerticalAlign: 'middle'}});
  graphics.push({type: 'text', x: p.offPos[0], y: p.offPos[1], silent: true,
    style: {text: p.off, fontFamily: FONT, fontSize: 7, fill: '#444', textAlign: 'center', textVerticalAlign: 'middle'}});

  DRAW_ORDER.forEach(si => {
    const pts = p.lines[si];
    if (!pts || pts[0].length < 3) return;
    const fill = hexToRgba(SERIES_COLORS[si], BAND_ALPHA[si]);
    series.push({
      type: 'custom', name: 'band-' + gi + '-' + si, xAxisIndex: gi, yAxisIndex: gi,
      silent: true, z: 1, animation: false, clip: true,
      data: pts.map(t => [t[0], t[1] - t[2], t[1] + (t.length > 3 ? t[3] : t[2])]),
      encode: {x: 0, y: [1, 2]},
      renderItem: function (params, api) {
        if (params.dataIndexInside !== 0) return null;
        const n = params.dataInsideLength;
        const up = [], lo = [];
        for (let i = 0; i < n; i++) {
          const x = api.value(0, i);
          up.push(api.coord([x, api.value(2, i)]));
          lo.push(api.coord([x, api.value(1, i)]));
        }
        return {type: 'polygon', shape: {points: up.concat(lo.reverse())}, style: {fill: fill, stroke: null}};
      }
    });
  });
  DRAW_ORDER.forEach((si, k) => {
    const pts = p.lines[si];
    if (!pts) return;
    const isGT = si === 5;
    series.push({
      type: 'line', name: SERIES_NAMES[si], xAxisIndex: gi, yAxisIndex: gi,
      data: pts.map(t => [t[0], t[1]]),
      symbol: 'none', showSymbol: false, silent: true, animation: false, clip: true, z: 3 + k,
      itemStyle: {color: SERIES_COLORS[si]},
      lineStyle: {color: SERIES_COLORS[si], width: 1.8, type: isGT ? [6, 3] : 'solid'},
      emphasis: {disabled: true}
    });
  });
});

const legendData = SERIES_NAMES.map((n, i) => ({
  name: n,
  icon: i === 5 ? 'path://M0,0H12V3.5H0Z M15,0H18.5V3.5H15Z M25.9,1.7H26V1.8H25.9Z' : 'path://M0,0H26V3.5H0Z'
}));

const chart = echarts.init(document.getElementById('c'), null, {renderer: 'canvas'});
chart.setOption({
  animation: false,
  backgroundColor: '#ffffff',
  grid: grids, xAxis: xAxes, yAxis: yAxes, series: series,
  legend: {
    data: legendData, left: 263, top: 1.5, orient: 'horizontal',
    itemWidth: 26, itemHeight: 3.5, itemGap: 23, padding: [3.5, 6, 3.5, 2],
    borderColor: '#d0d0d0', borderWidth: 1, borderRadius: 3, backgroundColor: '#ffffff',
    selectedMode: false,
    textStyle: {fontFamily: LEGEND_FONT, fontSize: 12.3, color: INK, padding: [0, 0, 0, 3]}
  },
  graphic: graphics
});
</script></body></html>
